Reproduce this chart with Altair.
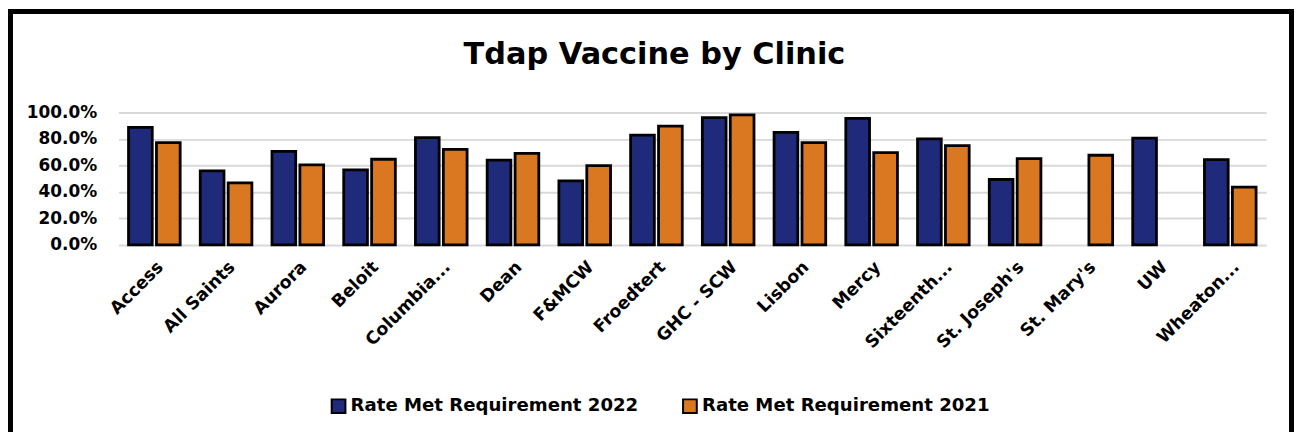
import altair as alt
import pandas as pd

clinics = ["Access", "All Saints", "Aurora", "Beloit", "Columbia...", "Dean", "F&MCW",
           "Froedtert", "GHC - SCW", "Lisbon", "Mercy", "Sixteenth...", "St. Joseph's",
           "St. Mary's", "UW", "Wheaton..."]
rate_2022 = [0.887, 0.559, 0.707, 0.566, 0.810, 0.641, 0.483, 0.829, 0.962, 0.850,
             0.955, 0.800, 0.494, None, 0.807, 0.644]
rate_2021 = [0.772, 0.468, 0.604, 0.647, 0.722, 0.692, 0.599, 0.897, 0.982, 0.772,
             0.697, 0.750, 0.652, 0.677, None, 0.436]
series = ["Rate Met Requirement 2022", "Rate Met Requirement 2021"]
colors = ["#1F2A7B", "#D97820"]
y_ticks = [0, 0.2, 0.4, 0.6, 0.8, 1.0]
title_text = "Tdap Vaccine by Clinic"

rows = []
for c, a, b in zip(clinics, rate_2022, rate_2021):
    if a is not None:
        rows.append({"clinic": c, "series": series[0], "rate": a})
    if b is not None:
        rows.append({"clinic": c, "series": series[1], "rate": b})
df = pd.DataFrame(rows)

WIDE = "DejaVu Sans"

bars = alt.Chart(df).mark_bar(stroke="black", strokeWidth=2.8).encode(
    x=alt.X("clinic:N", sort=clinics,
            scale=alt.Scale(domain=clinics, paddingInner=0.28, paddingOuter=0.14),
            axis=alt.Axis(title=None, labelAngle=315, labelFont=WIDE, labelFontWeight="bold",
                          labelFontSize=17.5, labelColor="black", ticks=False, domain=False,
                          labelPadding=13)),
    xOffset=alt.XOffset("series:N", scale=alt.Scale(domain=series, paddingInner=0.15)),
    y=alt.Y("rate:Q", scale=alt.Scale(domain=[0, 1]),
            axis=alt.Axis(title=None, format=".1%", values=y_ticks, labelFont=WIDE,
                          labelFontWeight="bold", labelFontSize=17, labelColor="black",
                          ticks=False, domain=False, labelPadding=22, grid=True,
                          gridColor="#D9D9D9", gridWidth=2)),
    color=alt.Color("series:N", scale=alt.Scale(domain=series, range=colors),
                    legend=alt.Legend(title=None, orient="none", legendX=212, legendY=286,
                                      direction="horizontal", symbolType="square",
                                      symbolSize=190, symbolStrokeColor="black",
                                      symbolStrokeWidth=2, labelFont=WIDE,
                                      labelFontWeight="bold", labelFontSize=18.2,
                                      labelColor="black", columnPadding=40, labelOffset=3,
                                      labelLimit=400)),
)

one = pd.DataFrame({"a": [0]})
left_edge = alt.Chart(one).mark_rule(stroke="black", strokeWidth=5).encode(
    x=alt.value(-108.5), y=alt.value(-104), y2=alt.value(321))
top_edge = alt.Chart(one).mark_rule(stroke="black", strokeWidth=5).encode(
    x=alt.value(-111), x2=alt.value(1181), y=alt.value(-101.5))
right_edge = alt.Chart(one).mark_rule(stroke="black", strokeWidth=5).encode(
    x=alt.value(1178.5), y=alt.value(-104), y2=alt.value(321))

title = alt.Chart(pd.DataFrame({"t": [title_text]})).mark_text(
    font=WIDE, fontWeight="bold", fontSize=30.5, align="center", baseline="alphabetic",
    color="black"
).encode(x=alt.value(538.5), y=alt.value(-49), text="t:N")

chart = alt.layer(left_edge, top_edge, right_edge, title, bars).properties(
    width=1153, height=133,
    autosize=alt.AutoSizeParams(type="none"),
    padding={"left": 111, "top": 104, "right": 28, "bottom": 188},
    background="white",
).configure_view(stroke=None)

chart.save("out.html", embed_options={"renderer": "svg", "actions": False})
